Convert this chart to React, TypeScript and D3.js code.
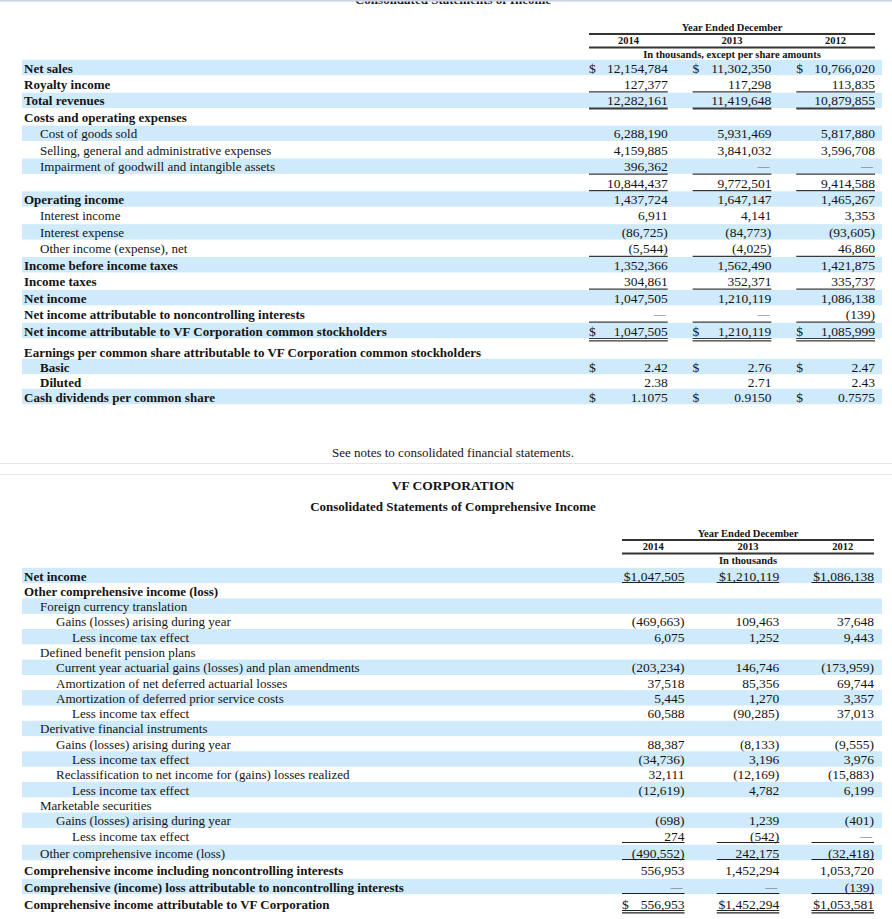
import React from 'react';
import * as d3 from 'd3';

const width = 892;
const height = 919;
const FONT = '"Liberation Serif", "Times New Roman", serif';
const band = '#cfeafa';
const ink = '#141414';
const U = undefined;

const years = ['2014', '2013', '2012'];

// Consolidated Statements of Income
const incomeLabels = [
  'Net sales', 'Royalty income', 'Total revenues', 'Costs and operating expenses',
  'Cost of goods sold', 'Selling, general and administrative expenses',
  'Impairment of goodwill and intangible assets', '', 'Operating income',
  'Interest income', 'Interest expense', 'Other income (expense), net',
  'Income before income taxes', 'Income taxes', 'Net income',
  'Net income attributable to noncontrolling interests',
  'Net income attributable to VF Corporation common stockholders',
  'Earnings per common share attributable to VF Corporation common stockholders',
  'Basic', 'Diluted', 'Cash dividends per common share',
];
const incomeIndent = [0, 0, 0, 0, 1, 1, 1, 0, 0, 1, 1, 1, 0, 0, 0, 0, 0, 0, 1, 1, 0];
const incomeBold = [1, 1, 1, 1, 0, 0, 0, 0, 1, 0, 0, 0, 1, 1, 1, 1, 1, 1, 1, 1, 1];
const income2014 = [12154784, 127377, 12282161, U, 6288190, 4159885, 396362, 10844437, 1437724, 6911, -86725, -5544, 1352366, 304861, 1047505, null, 1047505, U, 2.42, 2.38, 1.1075];
const income2013 = [11302350, 117298, 11419648, U, 5931469, 3841032, null, 9772501, 1647147, 4141, -84773, -4025, 1562490, 352371, 1210119, null, 1210119, U, 2.76, 2.71, 0.915];
const income2012 = [10766020, 113835, 10879855, U, 5817880, 3596708, null, 9414588, 1465267, 3353, -93605, 46860, 1421875, 335737, 1086138, -139, 1085999, U, 2.47, 2.43, 0.7575];
const incomeDecimals: Record<number, number> = { 18: 2, 19: 2, 20: 4 };
const incomeDollarRows = [0, 16, 18, 20];
const incomeSingle = [1, 6, 7, 11, 13, 15];
const incomeThick = [2];
const incomeDouble = [16];

// Consolidated Statements of Comprehensive Income
const compLabels = [
  'Net income', 'Other comprehensive income (loss)', 'Foreign currency translation',
  'Gains (losses) arising during year', 'Less income tax effect',
  'Defined benefit pension plans',
  'Current year actuarial gains (losses) and plan amendments',
  'Amortization of net deferred actuarial losses',
  'Amortization of deferred prior service costs', 'Less income tax effect',
  'Derivative financial instruments', 'Gains (losses) arising during year',
  'Less income tax effect', 'Reclassification to net income for (gains) losses realized',
  'Less income tax effect', 'Marketable securities', 'Gains (losses) arising during year',
  'Less income tax effect', 'Other comprehensive income (loss)',
  'Comprehensive income including noncontrolling interests',
  'Comprehensive (income) loss attributable to noncontrolling interests',
  'Comprehensive income attributable to VF Corporation',
];
const compIndent = [0, 0, 1, 2, 3, 1, 2, 2, 2, 3, 1, 2, 3, 2, 3, 1, 2, 3, 1, 0, 0, 0];
const compBold = [1, 1, 0, 0, 0, 0, 0, 0, 0, 0, 0, 0, 0, 0, 0, 0, 0, 0, 0, 1, 1, 1];
const comp2014 = [1047505, U, U, -469663, 6075, U, -203234, 37518, 5445, 60588, U, 88387, -34736, 32111, -12619, U, -698, 274, -490552, 556953, null, 556953];
const comp2013 = [1210119, U, U, 109463, 1252, U, 146746, 85356, 1270, -90285, U, -8133, 3196, -12169, 4782, U, 1239, -542, 242175, 1452294, null, 1452294];
const comp2012 = [1086138, U, U, 37648, 9443, U, -173959, 69744, 3357, 37013, U, -9555, 3976, -15883, 6199, U, -401, null, -32418, 1053720, -139, 1053581];
// 'tight' = "$1,234", 'wide' = "$    1,234"
const compDollar: Record<number, string[]> = { 0: ['tight', 'tight', 'tight'], 21: ['wide', 'tight', 'tight'] };
const compSingle = [0, 17, 18, 20];
const compDouble = [21];

const fmtInt = d3.format(',');
function fmt(v: number, dec?: number) {
  const s = dec ? d3.format(`,.${dec}f`)(Math.abs(v)) : fmtInt(Math.abs(v));
  return v < 0 ? `(${s})` : s;
}

type TableProps = {
  labels: string[];
  indent: number[];
  bold: number[];
  cols: (number | null | undefined)[][];
  y: d3.ScaleLinear<number, number>;
  x: d3.ScaleBand<string>;
  decimals?: Record<number, number>;
  dollar: (row: number, col: number) => string | null;
  single: number[];
  thick: number[];
  double: number[];
  lineColor: string;
  lineGap: number;
};

function Table(p: TableProps) {
  const { labels, y, x } = p;
  const bw = x.bandwidth();
  const indentX = d3.scaleLinear().domain([0, 1]).range([24, 40]);
  const rowH = 15.4;
  return (
    <g>
      {labels.map((_, i) => i % 2 === 0 ? (
        <rect key={`b${i}`} x={22} y={y(i) - rowH / 2 - 0.5} width={860} height={rowH} fill={band} />
      ) : null)}
      {labels.map((l, i) => (
        <text key={`l${i}`} x={indentX(p.indent[i])} y={y(i) + 4.5} fontSize={13}
          fontWeight={p.bold[i] ? 'bold' : 'normal'} fill={ink}>{l}</text>
      ))}
      {years.map((yr, c) => (
        <g key={yr}>
          {p.cols[c].map((v, i) => {
            if (v === undefined) return null;
            const right = (x(yr) as number) + bw;
            const left = x(yr) as number;
            if (v === null) {
              return <text key={i} x={right - 2} y={y(i) + 3.5} fontSize={12} textAnchor="end" fill="#666">—</text>;
            }
            const d = p.dollar(i, c);
            const txt = fmt(v, p.decimals ? p.decimals[i] : undefined);
            return (
              <g key={i}>
                {d === 'wide' && <text x={left} y={y(i) + 4.5} fontSize={13.5} fill={ink}>$</text>}
                <text x={right} y={y(i) + 4.5} fontSize={13.5} textAnchor="end" fill={ink}>
                  {d === 'tight' ? `$${txt}` : txt}
                </text>
              </g>
            );
          })}
          {p.single.map(i => (
            <line key={`s${i}`} x1={x(yr)} x2={(x(yr) as number) + bw} y1={y(i) + p.lineGap} y2={y(i) + p.lineGap}
              stroke={p.lineColor} strokeWidth={1.2} />
          ))}
          {p.thick.map(i => (
            <line key={`t${i}`} x1={x(yr)} x2={(x(yr) as number) + bw} y1={y(i) + p.lineGap} y2={y(i) + p.lineGap}
              stroke={p.lineColor} strokeWidth={2} />
          ))}
          {p.double.map(i => (
            <g key={`d${i}`}>
              <line x1={x(yr)} x2={(x(yr) as number) + bw} y1={y(i) + p.lineGap} y2={y(i) + p.lineGap}
                stroke={p.lineColor} strokeWidth={1.2} />
              <line x1={x(yr)} x2={(x(yr) as number) + bw} y1={y(i) + p.lineGap + 2.4} y2={y(i) + p.lineGap + 2.4}
                stroke={p.lineColor} strokeWidth={1.2} />
            </g>
          ))}
        </g>
      ))}
    </g>
  );
}

function Header({ x, top, sub }: { x: d3.ScaleBand<string>; top: number; sub: string }) {
  const [x0, x1] = x.range();
  const mid = (x0 + x1) / 2;
  const bw = x.bandwidth();
  return (
    <g fontWeight="bold" fill={ink} fontSize={10.5}>
      <text x={mid} y={top + 3.5} textAnchor="middle">Year Ended December</text>
      <line x1={x0} x2={x1} y1={top + 7} y2={top + 7} stroke="#333" strokeWidth={1.8} />
      {years.map(yr => (
        <text key={yr} x={(x(yr) as number) + bw / 2} y={top + 17} textAnchor="middle">{yr}</text>
      ))}
      <line x1={x0} x2={x1} y1={top + 20.5} y2={top + 20.5} stroke="#333" strokeWidth={1.8} />
      <text x={mid} y={top + 30.5} textAnchor="middle">{sub}</text>
    </g>
  );
}

export default function App() {
  const yIncome = d3.scaleLinear().domain([0, 16, 17, 20]).range([68, 331, 352, 397]);
  const yComp = d3.scaleLinear().domain([0, 17, 21]).range([576, 836, 904]);
  const xIncome = d3.scaleBand<string>().domain(years).range([589, 875]).paddingInner(0.24);
  const xComp = d3.scaleBand<string>().domain(years).range([622, 874]).paddingInner(0.34);

  return (
    <svg width={width} height={height} fontFamily={FONT}
      style={{ position: 'absolute', left: 0, top: 0, background: '#fff' }}>
      <text x={453} y={4} textAnchor="middle" fontSize={13} fontWeight="bold" fill={ink}>
        Consolidated Statements of Income
      </text>
      <rect x={0} y={0} width={width} height={1.6} fill="#cdd4e4" />

      <Header x={xIncome} top={27} sub="In thousands, except per share amounts" />
      <Table labels={incomeLabels} indent={incomeIndent} bold={incomeBold}
        cols={[income2014, income2013, income2012]} y={yIncome} x={xIncome}
        decimals={incomeDecimals}
        dollar={(i) => (incomeDollarRows.includes(i) ? 'wide' : null)}
        single={incomeSingle} thick={incomeThick} double={incomeDouble}
        lineColor="#3a3a3a" lineGap={7.5} />

      <text x={453} y={457} textAnchor="middle" fontSize={13} fill={ink}>
        See notes to consolidated financial statements.
      </text>
      <line x1={0} x2={width} y1={463.5} y2={463.5} stroke="#e6e6e6" strokeWidth={1.2} />
      <line x1={0} x2={width} y1={474.5} y2={474.5} stroke="#e6e6e6" strokeWidth={1.2} />
      <text x={453} y={490} textAnchor="middle" fontSize={13.5} fontWeight="bold" fill={ink}>VF CORPORATION</text>
      <text x={453} y={511} textAnchor="middle" fontSize={13} fontWeight="bold" fill={ink}>
        Consolidated Statements of Comprehensive Income
      </text>

      <Header x={xComp} top={533} sub="In thousands" />
      <Table labels={compLabels} indent={compIndent} bold={compBold}
        cols={[comp2014, comp2013, comp2012]} y={yComp} x={xComp}
        dollar={(i, c) => (compDollar[i] ? compDollar[i][c] : null)}
        single={compSingle} thick={[]} double={compDouble}
        lineColor="#222" lineGap={6.5} />
    </svg>
  );
}
